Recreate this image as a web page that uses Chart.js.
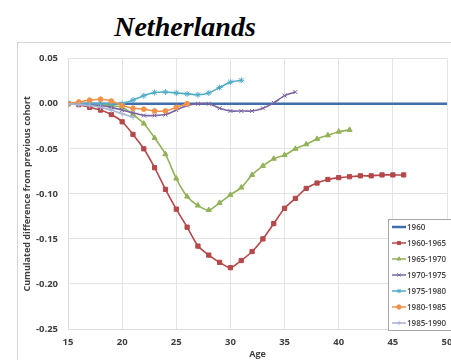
<!DOCTYPE html>
<html>
<head>
<meta charset="utf-8">
<script src="https://cdn.jsdelivr.net/npm/chart.js@4"></script>
<style>
  body { margin: 0; width: 451px; height: 360px; overflow: hidden; background: #fff; position: relative; }
  #title { position: absolute; left: 85px; top: 14px; width: 200px; text-align: center;
           font: italic bold 28px "Liberation Serif", "Times New Roman", serif; line-height: 26px; color: #000; }
  #frame { position: absolute; left: 17px; top: 42px; width: 520px; height: 330px; border: 1px solid #d4d4d4; }
  #chart { display: block; }
</style>
</head>
<body>
<div id="title">Netherlands</div>
<div id="frame"><canvas id="chart" width="520" height="330"></canvas></div>
<script>
const ages = [15, 16, 17, 18, 19, 20, 21, 22, 23, 24, 25, 26, 27, 28, 29, 30, 31, 32,
              33, 34, 35, 36, 37, 38, 39, 40, 41, 42, 43, 44, 45, 46, 47, 48, 49, 50];
const seriesNames = ['1960', '1960-1965', '1965-1970', '1970-1975', '1975-1980', '1980-1985', '1985-1990'];

// each series starts at age 15
const c1960 = [0, 0, 0, 0, 0, 0, 0, 0, 0, 0, 0, 0, 0, 0, 0, 0, 0, 0,
               0, 0, 0, 0, 0, 0, 0, 0, 0, 0, 0, 0, 0, 0, 0, 0, 0, 0];
const c1960_65 = [0, -0.001, -0.004, -0.007, -0.012, -0.020, -0.034, -0.050, -0.071, -0.095,
                  -0.117, -0.137, -0.158, -0.168, -0.176, -0.182, -0.174, -0.164, -0.150, -0.133,
                  -0.116, -0.105, -0.094, -0.088, -0.084, -0.082, -0.081, -0.080, -0.080, -0.079,
                  -0.079, -0.079];
const c1965_70 = [0, 0, -0.001, -0.001, -0.002, -0.004, -0.012, -0.022, -0.038, -0.056,
                  -0.083, -0.103, -0.113, -0.118, -0.110, -0.101, -0.093, -0.079, -0.069, -0.061,
                  -0.057, -0.050, -0.045, -0.039, -0.035, -0.031, -0.029];
const c1970_75 = [0, 0, -0.001, -0.002, -0.004, -0.007, -0.010, -0.013, -0.013, -0.012,
                  -0.007, -0.002, 0, 0, -0.005, -0.008, -0.008, -0.008, -0.005, 0.001,
                  0.009, 0.013];
const c1975_80 = [0, 0, 0, 0, 0, 0, 0.004, 0.009, 0.0125, 0.013, 0.012, 0.011, 0.010, 0.012,
                  0.018, 0.024, 0.026];
const c1980_85 = [0, 0.002, 0.004, 0.005, 0.003, -0.002, -0.005, -0.006, -0.008, -0.008, -0.004, 0];
const c1985_90 = [0, -0.001, -0.002, -0.004, -0.007, -0.011, -0.015];

const yTicks = [0.05, 0.00, -0.05, -0.10, -0.15, -0.20, -0.25];

const seriesValues = [c1960, c1960_65, c1965_70, c1970_75, c1975_80, c1980_85, c1985_90];
const colors = ['#3f6eaa', '#b5484a', '#93b158', '#7a64a0', '#4fabc6', '#f0924a', '#a9b3d8'];
const markers = [false, 'rect', 'triangle', 'crossRot', 'star', 'circle', 'cross'];
const markerSize = [0, 3, 3, 2.8, 3, 2.4, 2.8];

const datasets = seriesValues.map((vals, i) => ({
  label: seriesNames[i],
  data: vals.map((v, k) => ({ x: ages[k], y: v })),
  borderColor: colors[i],
  backgroundColor: colors[i],
  borderWidth: i === 0 ? 2.6 : 1.6,
  pointStyle: markers[i],
  pointRadius: markerSize[i],
  pointBorderWidth: 1,
  tension: 0.25,
  order: seriesValues.length - i
}));

// legend box drawn inside the plot, bottom-right
const boxLegend = {
  id: 'boxLegend',
  afterDraw(chart) {
    const ctx = chart.ctx;
    const x0 = 370, y0 = 176, w = 80, h = 111;
    ctx.save();
    ctx.fillStyle = '#fff';
    ctx.fillRect(x0, y0, w, h);
    ctx.strokeStyle = '#a6a6a6';
    ctx.lineWidth = 1;
    ctx.strokeRect(x0 + 0.5, y0 + 0.5, w, h);
    ctx.font = '600 8px "Open Sans", sans-serif';
    ctx.textBaseline = 'middle';
    chart.data.datasets.forEach((ds, i) => {
      const y = y0 + 8 + i * 16;
      ctx.strokeStyle = ds.borderColor;
      ctx.lineWidth = i === 0 ? 2.5 : 1.5;
      ctx.beginPath();
      ctx.moveTo(x0 + 4, y);
      ctx.lineTo(x0 + 18, y);
      ctx.stroke();
      if (ds.pointStyle) {
        ctx.fillStyle = ds.backgroundColor;
        ctx.lineWidth = 1;
        Chart.helpers.drawPoint(ctx, { pointStyle: ds.pointStyle, radius: 2.2, borderWidth: 1 }, x0 + 11, y);
      }
      ctx.fillStyle = '#404040';
      ctx.fillText(ds.label, x0 + 19, y + 0.5);
    });
    ctx.restore();
  }
};

const tickFont = { family: 'Open Sans', size: 9.5, weight: 'bold' };

new Chart(document.getElementById('chart'), {
  type: 'line',
  data: { datasets },
  plugins: [boxLegend],
  options: {
    responsive: false,
    animation: false,
    layout: { padding: { top: 9, left: 0, right: 91, bottom: 4 } },
    plugins: { legend: { display: false }, tooltip: { enabled: false } },
    scales: {
      x: {
        type: 'linear',
        min: 15, max: 50,
        afterFit: s => { s.height = 40; },
        ticks: { stepSize: 5, padding: 8, color: '#404040', font: tickFont },
        grid: { color: '#e3e3e3', drawTicks: false },
        border: { color: '#dcdcdc' },
        title: { display: true, text: 'Age', color: '#404040', padding: { top: 0, bottom: 9 },
                 font: { family: 'Open Sans', size: 9, weight: 'bold' } }
      },
      y: {
        min: -0.25, max: 0.05,
        afterFit: s => { s.width = 50; },
        afterBuildTicks: s => { s.ticks = yTicks.map(v => ({ value: v })); },
        ticks: { padding: 10, color: '#404040', font: tickFont,
                 callback: v => v.toFixed(2) },
        grid: { color: '#e3e3e3', drawTicks: false },
        border: { color: '#dcdcdc' },
        title: { display: true, text: 'Cumulated difference from previous cohort', color: '#404040',
                 padding: { top: 4, bottom: 0 }, font: { family: 'Open Sans', size: 9, weight: 'bold' } }
      }
    }
  }
});
</script>
</body>
</html>
